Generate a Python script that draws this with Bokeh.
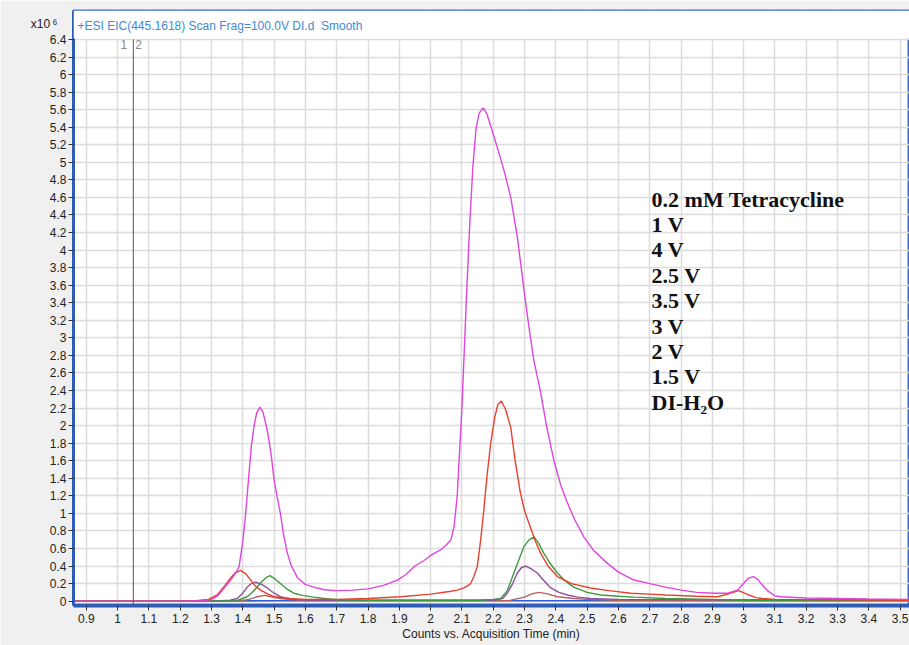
from bokeh.plotting import figure
from bokeh.models import FixedTicker, Label, BoxAnnotation, LinearAxis
from bokeh.embed import file_html
from bokeh.resources import INLINE

# ---------------- data ----------------
x_ticks = [0.9, 1.0, 1.1, 1.2, 1.3, 1.4, 1.5, 1.6, 1.7, 1.8, 1.9, 2.0, 2.1, 2.2,
           2.3, 2.4, 2.5, 2.6, 2.7, 2.8, 2.9, 3.0, 3.1, 3.2, 3.3, 3.4, 3.5]
x_tick_labels = ["0.9", "1", "1.1", "1.2", "1.3", "1.4", "1.5", "1.6", "1.7", "1.8",
                 "1.9", "2", "2.1", "2.2", "2.3", "2.4", "2.5", "2.6", "2.7", "2.8",
                 "2.9", "3", "3.1", "3.2", "3.3", "3.4", "3.5"]
y_ticks = [0.0, 0.2, 0.4, 0.6, 0.8, 1.0, 1.2, 1.4, 1.6, 1.8, 2.0, 2.2, 2.4, 2.6,
           2.8, 3.0, 3.2, 3.4, 3.6, 3.8, 4.0, 4.2, 4.4, 4.6, 4.8, 5.0, 5.2, 5.4,
           5.6, 5.8, 6.0, 6.2, 6.4]
y_tick_labels = ["0", "0.2", "0.4", "0.6", "0.8", "1", "1.2", "1.4", "1.6", "1.8",
                 "2", "2.2", "2.4", "2.6", "2.8", "3", "3.2", "3.4", "3.6", "3.8",
                 "4", "4.2", "4.4", "4.6", "4.8", "5", "5.2", "5.4", "5.6", "5.8",
                 "6", "6.2", "6.4"]

legend_labels = ["0.2 mM Tetracycline", "1 V", "4 V", "2.5 V", "3.5 V", "3 V",
                 "2 V", "1.5 V", "DI-H\u2082O"]

title_text = "+ESI EIC(445.1618) Scan Frag=100.0V DI.d\u00a0 Smooth"
x_title = "Counts vs. Acquisition Time (min)"
scale_text = "x10\u2009\u2076"
marker_time = 1.05
marker_names = ["1", "2"]

# counts (x10^6) vs time (min)
magenta_t = [0.86, 1.20, 1.27, 1.30, 1.32, 1.34, 1.361, 1.377, 1.388, 1.40, 1.409,
             1.418, 1.427, 1.436, 1.444, 1.454, 1.464, 1.478, 1.49, 1.50, 1.51,
             1.52, 1.53, 1.542, 1.555, 1.574, 1.60, 1.626, 1.66, 1.70, 1.75, 1.80,
             1.85, 1.894, 1.92, 1.95, 1.978, 2.00, 2.03, 2.05, 2.065, 2.075, 2.085,
             2.10, 2.115, 2.125, 2.135, 2.145, 2.155, 2.168, 2.18, 2.195, 2.213,
             2.235, 2.256, 2.277, 2.30, 2.315, 2.33, 2.352, 2.37, 2.394, 2.415,
             2.437, 2.46, 2.49, 2.52, 2.565, 2.60, 2.65, 2.70, 2.75, 2.80, 2.85,
             2.905, 2.95, 2.98, 3.00, 3.015, 3.03, 3.045, 3.06, 3.076, 3.10, 3.118,
             3.20, 3.30, 3.40, 3.53]
magenta_v = [0.0, 0.0, 0.005, 0.02, 0.06, 0.15, 0.24, 0.32, 0.39, 0.68, 1.0,
             1.38, 1.76, 2.0, 2.14, 2.21, 2.16, 1.95, 1.68, 1.38, 1.18,
             1.0, 0.76, 0.55, 0.40, 0.27, 0.19, 0.16, 0.13, 0.12, 0.125, 0.14,
             0.18, 0.24, 0.30, 0.40, 0.46, 0.52, 0.58, 0.64, 0.70, 0.85, 1.2,
             2.2, 3.5, 4.3, 4.95, 5.38, 5.56, 5.62, 5.55, 5.38, 5.17,
             4.9, 4.6, 4.15, 3.5, 3.1, 2.74, 2.37, 2.0, 1.6, 1.33,
             1.12, 0.93, 0.73, 0.58, 0.43, 0.33, 0.24, 0.20, 0.16, 0.125, 0.10,
             0.09, 0.09, 0.125, 0.20, 0.26, 0.28, 0.25, 0.18, 0.12, 0.06, 0.05,
             0.035, 0.03, 0.025, 0.02]

red_t = [0.86, 1.20, 1.25, 1.29, 1.318, 1.339, 1.36, 1.375, 1.393, 1.41, 1.425,
         1.44, 1.457, 1.48, 1.50, 1.55, 1.60, 1.70, 1.80, 1.904, 2.00, 2.06,
         2.085, 2.106, 2.12, 2.128, 2.138, 2.149, 2.16, 2.17, 2.18, 2.192, 2.205,
         2.215, 2.226, 2.24, 2.256, 2.27, 2.287, 2.30, 2.319, 2.335, 2.351, 2.375,
         2.405, 2.45, 2.511, 2.57, 2.64, 2.70, 2.75, 2.85, 2.916, 2.95, 2.984,
         3.01, 3.04, 3.06, 3.10, 3.53]
red_v = [0.0, 0.0, 0.005, 0.02, 0.07, 0.16, 0.26, 0.32, 0.35, 0.31, 0.24,
         0.17, 0.125, 0.08, 0.05, 0.03, 0.02, 0.02, 0.03, 0.05, 0.08, 0.11,
         0.125, 0.15, 0.18, 0.20, 0.28, 0.39, 0.70, 1.04, 1.42, 1.80, 2.10,
         2.24, 2.28, 2.18, 1.98, 1.60, 1.23, 1.03, 0.84, 0.68, 0.55, 0.40,
         0.28, 0.20, 0.15, 0.12, 0.09, 0.08, 0.07, 0.055, 0.05, 0.08, 0.12,
         0.08, 0.04, 0.03, 0.02, 0.01]

green_t = [0.86, 1.30, 1.38, 1.414, 1.43, 1.446, 1.46, 1.475, 1.487, 1.50, 1.52,
           1.54, 1.563, 1.59, 1.626, 1.66, 1.70, 1.80, 2.00, 2.15, 2.20, 2.224,
           2.245, 2.266, 2.282, 2.298, 2.315, 2.33, 2.345, 2.361, 2.38, 2.405,
           2.43, 2.457, 2.50, 2.544, 2.60, 2.65, 2.75, 2.90, 3.00, 3.53]
green_v = [0.0, 0.0, 0.005, 0.05, 0.10, 0.16, 0.22, 0.27, 0.29, 0.26, 0.20,
           0.14, 0.09, 0.065, 0.045, 0.03, 0.015, 0.01, 0.01, 0.01, 0.02, 0.03,
           0.12, 0.32, 0.47, 0.62, 0.70, 0.73, 0.66, 0.55, 0.44, 0.32,
           0.23, 0.16, 0.10, 0.07, 0.055, 0.045, 0.03, 0.02, 0.01, 0.005]

purple_t = [0.86, 1.30, 1.36, 1.382, 1.40, 1.414, 1.428, 1.441, 1.46, 1.478, 1.50,
            1.52, 1.55, 1.574, 1.70, 2.20, 2.23, 2.245, 2.262, 2.277, 2.29, 2.304,
            2.32, 2.341, 2.36, 2.384, 2.41, 2.437, 2.47, 2.51, 2.60, 3.53]
purple_v = [0.0, 0.0, 0.01, 0.03, 0.09, 0.16, 0.20, 0.215, 0.19, 0.15, 0.09,
            0.05, 0.025, 0.015, 0.01, 0.01, 0.03, 0.09, 0.20, 0.32, 0.38, 0.40,
            0.37, 0.32, 0.24, 0.15, 0.10, 0.07, 0.045, 0.03, 0.02, 0.01]

brown_t = [0.86, 1.38, 1.42, 1.446, 1.47, 1.49, 1.52, 1.56, 1.60, 2.25, 2.30,
           2.325, 2.346, 2.37, 2.405, 2.457, 2.50, 2.60, 3.53]
brown_v = [0.0, 0.0, 0.02, 0.05, 0.065, 0.05, 0.03, 0.015, 0.005, 0.005, 0.045,
           0.085, 0.10, 0.085, 0.05, 0.03, 0.02, 0.01, 0.005]

blue_t = [0.86, 1.20, 1.50, 2.00, 2.50, 3.00, 3.53]
blue_v = [0.0, 0.0, 0.006, 0.006, 0.006, 0.006, 0.006]

cyan_t = [0.86, 1.50, 2.50, 3.53]
cyan_v = [0.0, 0.0, 0.0, 0.0]

series = [
    (cyan_t, cyan_v, "#7cc0ea"),
    (blue_t, blue_v, "#2f5fd0"),
    (brown_t, brown_v, "#b4645c"),
    (purple_t, purple_v, "#8c4e9e"),
    (green_t, green_v, "#3f9a3f"),
    (red_t, red_v, "#e8402f"),
    (magenta_t, magenta_v, "#df44df"),
]

# ---------------- figure ----------------
AX_FONT = "Liberation Sans"
p = figure(width=909, height=645, x_range=(0.859, 3.53), y_range=(-0.05, 6.73),
           output_backend="svg", toolbar_location=None,
           min_border_left=73, min_border_right=0, min_border_top=10,
           min_border_bottom=40)
p.background_fill_color = "white"
p.border_fill_color = "#f0f0f0"
p.outline_line_color = "#3a6cc8"
p.outline_line_width = 2

for ax, ticks, labels in ((p.xaxis[0], x_ticks, x_tick_labels),
                          (p.yaxis[0], y_ticks, y_tick_labels)):
    ax.ticker = FixedTicker(ticks=ticks, minor_ticks=[])
    ax.major_label_overrides = {t: l for t, l in zip(ticks, labels)}
    ax.major_tick_out = 5
    ax.major_tick_in = 0
    ax.major_tick_line_color = "#333333"
    ax.major_tick_line_width = 1
    ax.minor_tick_line_color = None
    ax.major_label_text_font = AX_FONT
    ax.major_label_text_font_size = "12px"
    ax.major_label_text_color = "#222222"
    ax.axis_line_color = "#2f5db5"

p.xaxis.axis_line_width = 4
p.yaxis.axis_line_width = 3
p.xaxis.major_label_standoff = 3
p.yaxis.major_label_standoff = 2
p.xaxis.axis_label = x_title
p.xaxis.axis_label_text_font = AX_FONT
p.xaxis.axis_label_text_font_size = "12px"
p.xaxis.axis_label_text_font_style = "normal"
p.xaxis.axis_label_text_color = "#222222"
p.xaxis.axis_label_standoff = 1

# scale factor label ("x10^6") placed as an extra left axis label
scale_pos = 6.58
scale_axis = LinearAxis(ticker=FixedTicker(ticks=[scale_pos], minor_ticks=[]),
                        major_label_overrides={scale_pos: scale_text},
                        axis_line_color=None, major_tick_line_color=None,
                        minor_tick_line_color=None, major_label_standoff=-17,
                        major_label_text_font=AX_FONT,
                        major_label_text_font_size="12px",
                        major_label_text_color="#222222")
p.add_layout(scale_axis, "left")

p.xgrid.ticker = FixedTicker(ticks=x_ticks)
p.ygrid.ticker = FixedTicker(ticks=y_ticks)
p.grid.grid_line_color = "#dcdcdc"
p.grid.grid_line_width = 1.5

# curves
for t, v, c in series:
    p.line(t, v, line_color=c, line_width=1.4)

# marker line
p.segment(x0=[marker_time], y0=[-0.05], x1=[marker_time], y1=[y_ticks[-1]],
          line_color="#555555", line_width=1)

# white title strip (no grid above top tick)
p.add_layout(BoxAnnotation(bottom=y_ticks[-1] + 0.012, fill_color="white",
                           fill_alpha=1.0, line_alpha=0))

y_top = 6.73
x_left = 0.859
p.add_layout(Label(x=x_left, y=y_top, x_offset=4, y_offset=-15, text=title_text,
                   text_font=AX_FONT, text_font_size="12px", text_color="#3d8ad6",
                   text_baseline="middle", text_align="left"))

p.add_layout(Label(x=marker_time, y=y_ticks[-1], x_offset=-6, y_offset=-1,
                   text=marker_names[0], text_font=AX_FONT, text_font_size="12px",
                   text_color="#8a8a8a", text_baseline="top", text_align="right"))
p.add_layout(Label(x=marker_time, y=y_ticks[-1], x_offset=2, y_offset=-1,
                   text=marker_names[1], text_font=AX_FONT, text_font_size="12px",
                   text_color="#8a8a8a", text_baseline="top", text_align="left"))

# text legend
legend_x = 2.706
legend_y = 4.58
for i, lab in enumerate(legend_labels):
    p.add_layout(Label(x=legend_x, y=legend_y, y_offset=-25.4 * i, text=lab,
                       text_font="Liberation Serif", text_font_style="bold",
                       text_font_size="22px", text_color="#111111",
                       text_baseline="middle", text_align="left"))

open("out.html", "w").write(file_html(p, INLINE))
